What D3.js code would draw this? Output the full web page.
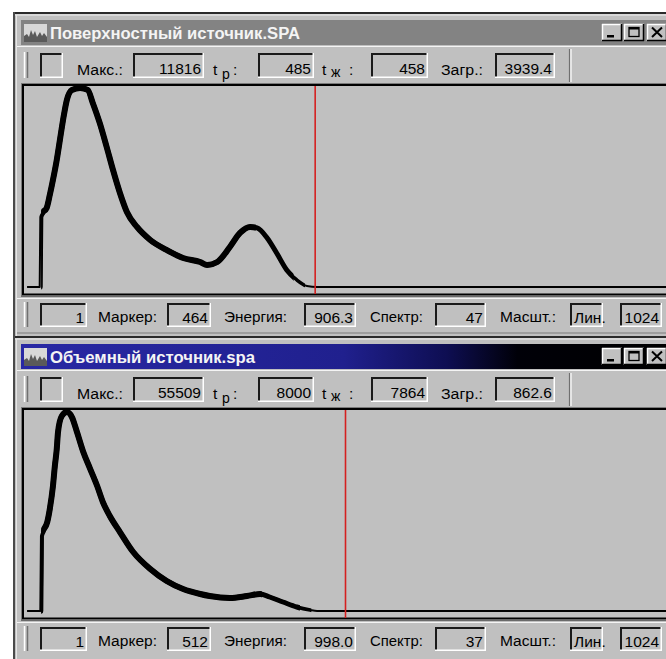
<!DOCTYPE html>
<html>
<head>
<meta charset="utf-8">
<script src="https://cdn.jsdelivr.net/npm/d3@7"></script>
<style>
  body { margin: 0; background: #fff; }
  svg { display: block; font-family: "Liberation Sans", Arial, sans-serif; }
</style>
</head>
<body>
<div id="chart"></div>
<script>
// Спектр 1: поверхностный источник (канал, счёт)
const surfCh  = [8, 28, 29, 32, 39, 44, 49, 55, 60, 65, 71, 79, 92, 104, 112, 123, 134, 144, 155, 166, 182, 203, 229, 255, 282, 293, 309, 329, 345, 361, 372, 388, 403, 419, 435, 451, 467, 1024];
const surfCnt = [0, 0, 4158, 4396, 4693, 5465, 6356, 7544, 8732, 9920, 11108, 11702, 11816, 11702, 10930, 9742, 8316, 6950, 5584, 4455, 3564, 2792, 2198, 1723, 1485, 1307, 1485, 2376, 3208, 3564, 3505, 2911, 2020, 1010, 416, 59, 0, 0];

// Спектр 2: объемный источник
const volCh  = [8, 29, 30, 33, 40, 44, 49, 52, 55, 57, 63, 71, 79, 87, 97, 108, 119, 128, 139, 155, 176, 203, 229, 255, 282, 297, 329, 356, 377, 392, 413, 435, 456, 467, 1024];
const volCnt = [0, 0, 20918, 22312, 24822, 28448, 34863, 40441, 45182, 49923, 54386, 55509, 54107, 49923, 44345, 39604, 34863, 30400, 26496, 22033, 16455, 11714, 8367, 6136, 4741, 4184, 3626, 4184, 4741, 3905, 2510, 1116, 279, 0, 0];

// подписи окон и полей
const titles     = ["Поверхностный источник.SPA", "Объемный источник.spa"];
const maxVals    = ["11816", "55509"];
const tpVals     = ["485", "8000"];
const tzhVals    = ["458", "7864"];
const loadVals   = ["3939.4", "862.6"];
const startVals  = ["1", "1"];
const markerVals = [464, 512];
const energyVals = ["906.3", "998.0"];
const spectrVals = ["47", "37"];
const scaleMode  = "Лин.";
const nChannels  = 1024;

const W = 666, H = 659;
const face = "#c0c0c0";

const svg = d3.select("#chart").append("svg")
    .attr("width", W)
    .attr("height", H);

svg.append("rect").attr("width", W).attr("height", H).attr("fill", "#fff");

const defs = svg.append("defs");

// градиент активного заголовка
const grad = defs.append("linearGradient")
    .attr("id", "activeTitle")
    .attr("x1", 0).attr("x2", 1).attr("y1", 0).attr("y2", 0);
[[0, "#2828a4"], [0.5, "#20208e"], [0.66, "#0e0e52"], [0.77, "#000008"], [1, "#000"]]
    .forEach(s => grad.append("stop").attr("offset", s[0]).attr("stop-color", s[1]));

const x = d3.scaleLinear().domain([0, nChannels]).range([22, 669]);

function hline(g, x0, x1, y, c, w) {
    g.append("line").attr("x1", x0).attr("x2", x1).attr("y1", y).attr("y2", y)
        .attr("stroke", c).attr("stroke-width", w);
}
function vline(g, xx, y0, y1, c, w) {
    g.append("line").attr("x1", xx).attr("x2", xx).attr("y1", y0).attr("y2", y1)
        .attr("stroke", c).attr("stroke-width", w);
}

// утопленное поле
function box(g, x0, x1, y0, y1, txt, align) {
    g.append("rect").attr("x", x0).attr("y", y0).attr("width", x1 - x0).attr("height", y1 - y0).attr("fill", face);
    hline(g, x0, x1, y0 + 1, "#1a1a1a", 2);
    vline(g, x0 + 1, y0, y1, "#1a1a1a", 2);
    hline(g, x0, x1, y1 - 0.75, "#ffffff", 1.5);
    vline(g, x1 - 0.75, y0, y1, "#ffffff", 1.5);
    if (txt != null) {
        g.append("text")
            .attr("x", align === "left" ? x0 + 4 : x1 - 3)
            .attr("y", y1 - 4)
            .attr("text-anchor", align === "left" ? "start" : "end")
            .attr("font-size", "15.5px")
            .text(txt);
    }
}

function label(g, xx, y, txt, len) {
    const t = g.append("text").attr("x", xx).attr("y", y).attr("font-size", "15.5px").text(txt);
    if (len) t.attr("textLength", len).attr("lengthAdjust", "spacingAndGlyphs");
    return t;
}

function grip(g, y0, y1) {
    vline(g, 24.5, y0, y1, "#ffffff", 1.5);
    vline(g, 27.5, y0, y1, "#707070", 1.5);
}

function button(g, x0, y0, kind) {
    const w = 20, h = 17;
    g.append("rect").attr("x", x0).attr("y", y0).attr("width", w).attr("height", h).attr("fill", face);
    hline(g, x0, x0 + w, y0 + 0.5, "#fff", 1.5);
    vline(g, x0 + 0.5, y0, y0 + h, "#fff", 1.5);
    hline(g, x0, x0 + w, y0 + h - 0.5, "#000", 1.5);
    vline(g, x0 + w - 0.5, y0, y0 + h, "#000", 1.5);
    if (kind === "min") {
        g.append("rect").attr("x", x0 + 5).attr("y", y0 + 11).attr("width", 7).attr("height", 2.5).attr("fill", "#000");
    } else if (kind === "max") {
        g.append("rect").attr("x", x0 + 5).attr("y", y0 + 3.5).attr("width", 10).attr("height", 9)
            .attr("fill", "none").attr("stroke", "#000").attr("stroke-width", 1.3);
        hline(g, x0 + 5, x0 + 15, y0 + 4.5, "#000", 2);
    } else {
        g.append("path").attr("d", `M${x0 + 5},${y0 + 3.5}L${x0 + 15},${y0 + 13}M${x0 + 15},${y0 + 3.5}L${x0 + 5},${y0 + 13}`)
            .attr("stroke", "#000").attr("stroke-width", 2);
    }
}

function drawWindow(i, y0, ch, cnt, thickTo) {
    const g = svg.append("g");
    const active = i === 1;
    const hWin = i === 0 ? 324 : H - y0;

    // рамка окна
    g.append("rect").attr("x", 13).attr("y", y0).attr("width", W - 13).attr("height", hWin).attr("fill", face);
    hline(g, 13, W, y0 + 1, "#2a2a2a", 2);
    vline(g, 14, y0, y0 + hWin, "#4a4a4a", 2);
    hline(g, 15, W, y0 + 3, "#f0f0f0", 1);
    vline(g, 16.5, y0 + 3, y0 + hWin, "#e6e6e6", 1);

    // заголовок
    g.append("rect").attr("x", 21).attr("y", y0 + 8).attr("width", W - 21).attr("height", 25)
        .attr("fill", active ? "url(#activeTitle)" : "#838383");
    // значок
    g.append("rect").attr("x", 24).attr("y", y0 + 12).attr("width", 23).attr("height", 18).attr("fill", "#d8d8d8");
    g.append("path")
        .attr("d", `M24,${y0 + 30}V${y0 + 24}l3,-2l2,3l2,-7l2,5l2,-4l2,6l3,-5l2,4l2,-3l3,4V${y0 + 30}Z`)
        .attr("fill", "#5a5a5a");
    g.append("text")
        .attr("x", 50).attr("y", y0 + 27)
        .attr("font-size", "16px").attr("font-weight", "bold")
        .attr("fill", "#f4f4f4")
        .attr("textLength", i === 0 ? 250 : 205)
        .attr("lengthAdjust", "spacingAndGlyphs")
        .text(titles[i]);
    button(g, 602, y0 + 12, "min");
    button(g, 624, y0 + 12, "max");
    button(g, 647, y0 + 12, "close");

    // информационная строка
    hline(g, 17, W, y0 + 34.5, "#f4f4f4", 1);
    grip(g, y0 + 40, y0 + 66);
    const iy0 = y0 + 41, iy1 = y0 + 66, ib = y0 + 63;
    box(g, 40, 63, iy0, iy1, null);
    label(g, 77, ib, "Макс.:", 46);
    box(g, 133, 204, iy0, iy1, maxVals[i]);
    label(g, 213, ib, "t");
    g.append("text").attr("x", 222).attr("y", ib + 4).attr("font-size", "14px").text("р");
    label(g, 233, ib, ":");
    box(g, 258, 314, iy0, iy1, tpVals[i]);
    label(g, 322, ib, "t");
    g.append("text").attr("x", 331).attr("y", ib + 2).attr("font-size", "14px").text("ж");
    label(g, 349, ib, ":");
    box(g, 371, 428, iy0, iy1, tzhVals[i]);
    label(g, 441, ib, "Загр.:", 42);
    box(g, 495, 555, iy0, iy1, loadVals[i]);
    vline(g, 569.5, y0 + 37, y0 + 70, "#707070", 1.2);
    vline(g, 571, y0 + 37, y0 + 70, "#ffffff", 1.2);

    // область спектра
    const pTop = y0 + 71, pBot = y0 + 285;
    g.append("rect").attr("x", 21).attr("y", pTop).attr("width", W - 21).attr("height", pBot - pTop).attr("fill", face);
    hline(g, 21, W, pTop + 0.5, "#7a7a7a", 1);
    hline(g, 22, W, pTop + 2, "#000", 2);
    vline(g, 21.5, pTop, pBot, "#7a7a7a", 1);
    vline(g, 23, pTop + 1, pBot - 2, "#000", 2);
    hline(g, 22, W, pBot - 2.5, "#000", 2);
    hline(g, 21, W, pBot - 0.75, "#6a6a6a", 1.5);

    const y = d3.scaleLinear().domain([0, d3.max(cnt)]).range([y0 + 275, y0 + 76]);
    const pts = ch.map((c, k) => [c, cnt[k]]);
    const line = d3.line().x(d => x(d[0])).y(d => y(d[1])).curve(d3.curveMonotoneX);

    // толщина линии спадает к хвосту спектра
    const layers = [
        { to: thickTo + 18, w: 3.5 },
        { to: thickTo, w: 5 },
        { to: thickTo - 60, w: 6 }
    ];

    g.append("path").datum(pts).attr("d", line)
        .attr("fill", "none").attr("stroke", "#000").attr("stroke-width", 2).attr("stroke-linejoin", "round");

    layers.forEach((l, k) => {
        const clipId = `thick${i}_${k}`;
        defs.append("clipPath").attr("id", clipId)
            .append("rect").attr("x", x(30.5)).attr("y", pTop)
            .attr("width", x(l.to) - x(30.5)).attr("height", pBot - pTop);
        g.append("path").datum(pts).attr("d", line)
            .attr("clip-path", `url(#${clipId})`)
            .attr("fill", "none").attr("stroke", "#000").attr("stroke-width", l.w)
            .attr("stroke-linejoin", "round").attr("stroke-linecap", "round");
    });

    // маркер
    vline(g, x(markerVals[i]), pTop + 3, pBot - 3, "#d42020", 1.6);

    // строка состояния
    hline(g, 17, W, y0 + 286.5, "#f4f4f4", 1);
    grip(g, y0 + 290, y0 + 315);
    const sy0 = y0 + 291, sy1 = y0 + 315, sb = y0 + 310;
    box(g, 40, 87, sy0, sy1, startVals[i]);
    label(g, 98, sb, "Маркер:", 59);
    box(g, 167, 211, sy0, sy1, String(markerVals[i]));
    label(g, 224, sb, "Энергия:", 63);
    box(g, 304, 356, sy0, sy1, energyVals[i]);
    label(g, 370, sb, "Спектр:", 53);
    box(g, 435, 486, sy0, sy1, spectrVals[i]);
    label(g, 500, sb, "Масшт.:", 56);
    box(g, 570, 603, sy0, sy1, scaleMode, "left");
    box(g, 620, 662, sy0, sy1, String(nChannels));

    if (i === 0) {
        hline(g, 17, W, y0 + 321, "#7a7a7a", 1);
    }
}

drawWindow(0, 12, surfCh, surfCnt, 430);
drawWindow(1, 336, volCh, volCnt, 440);
</script>
</body>
</html>
